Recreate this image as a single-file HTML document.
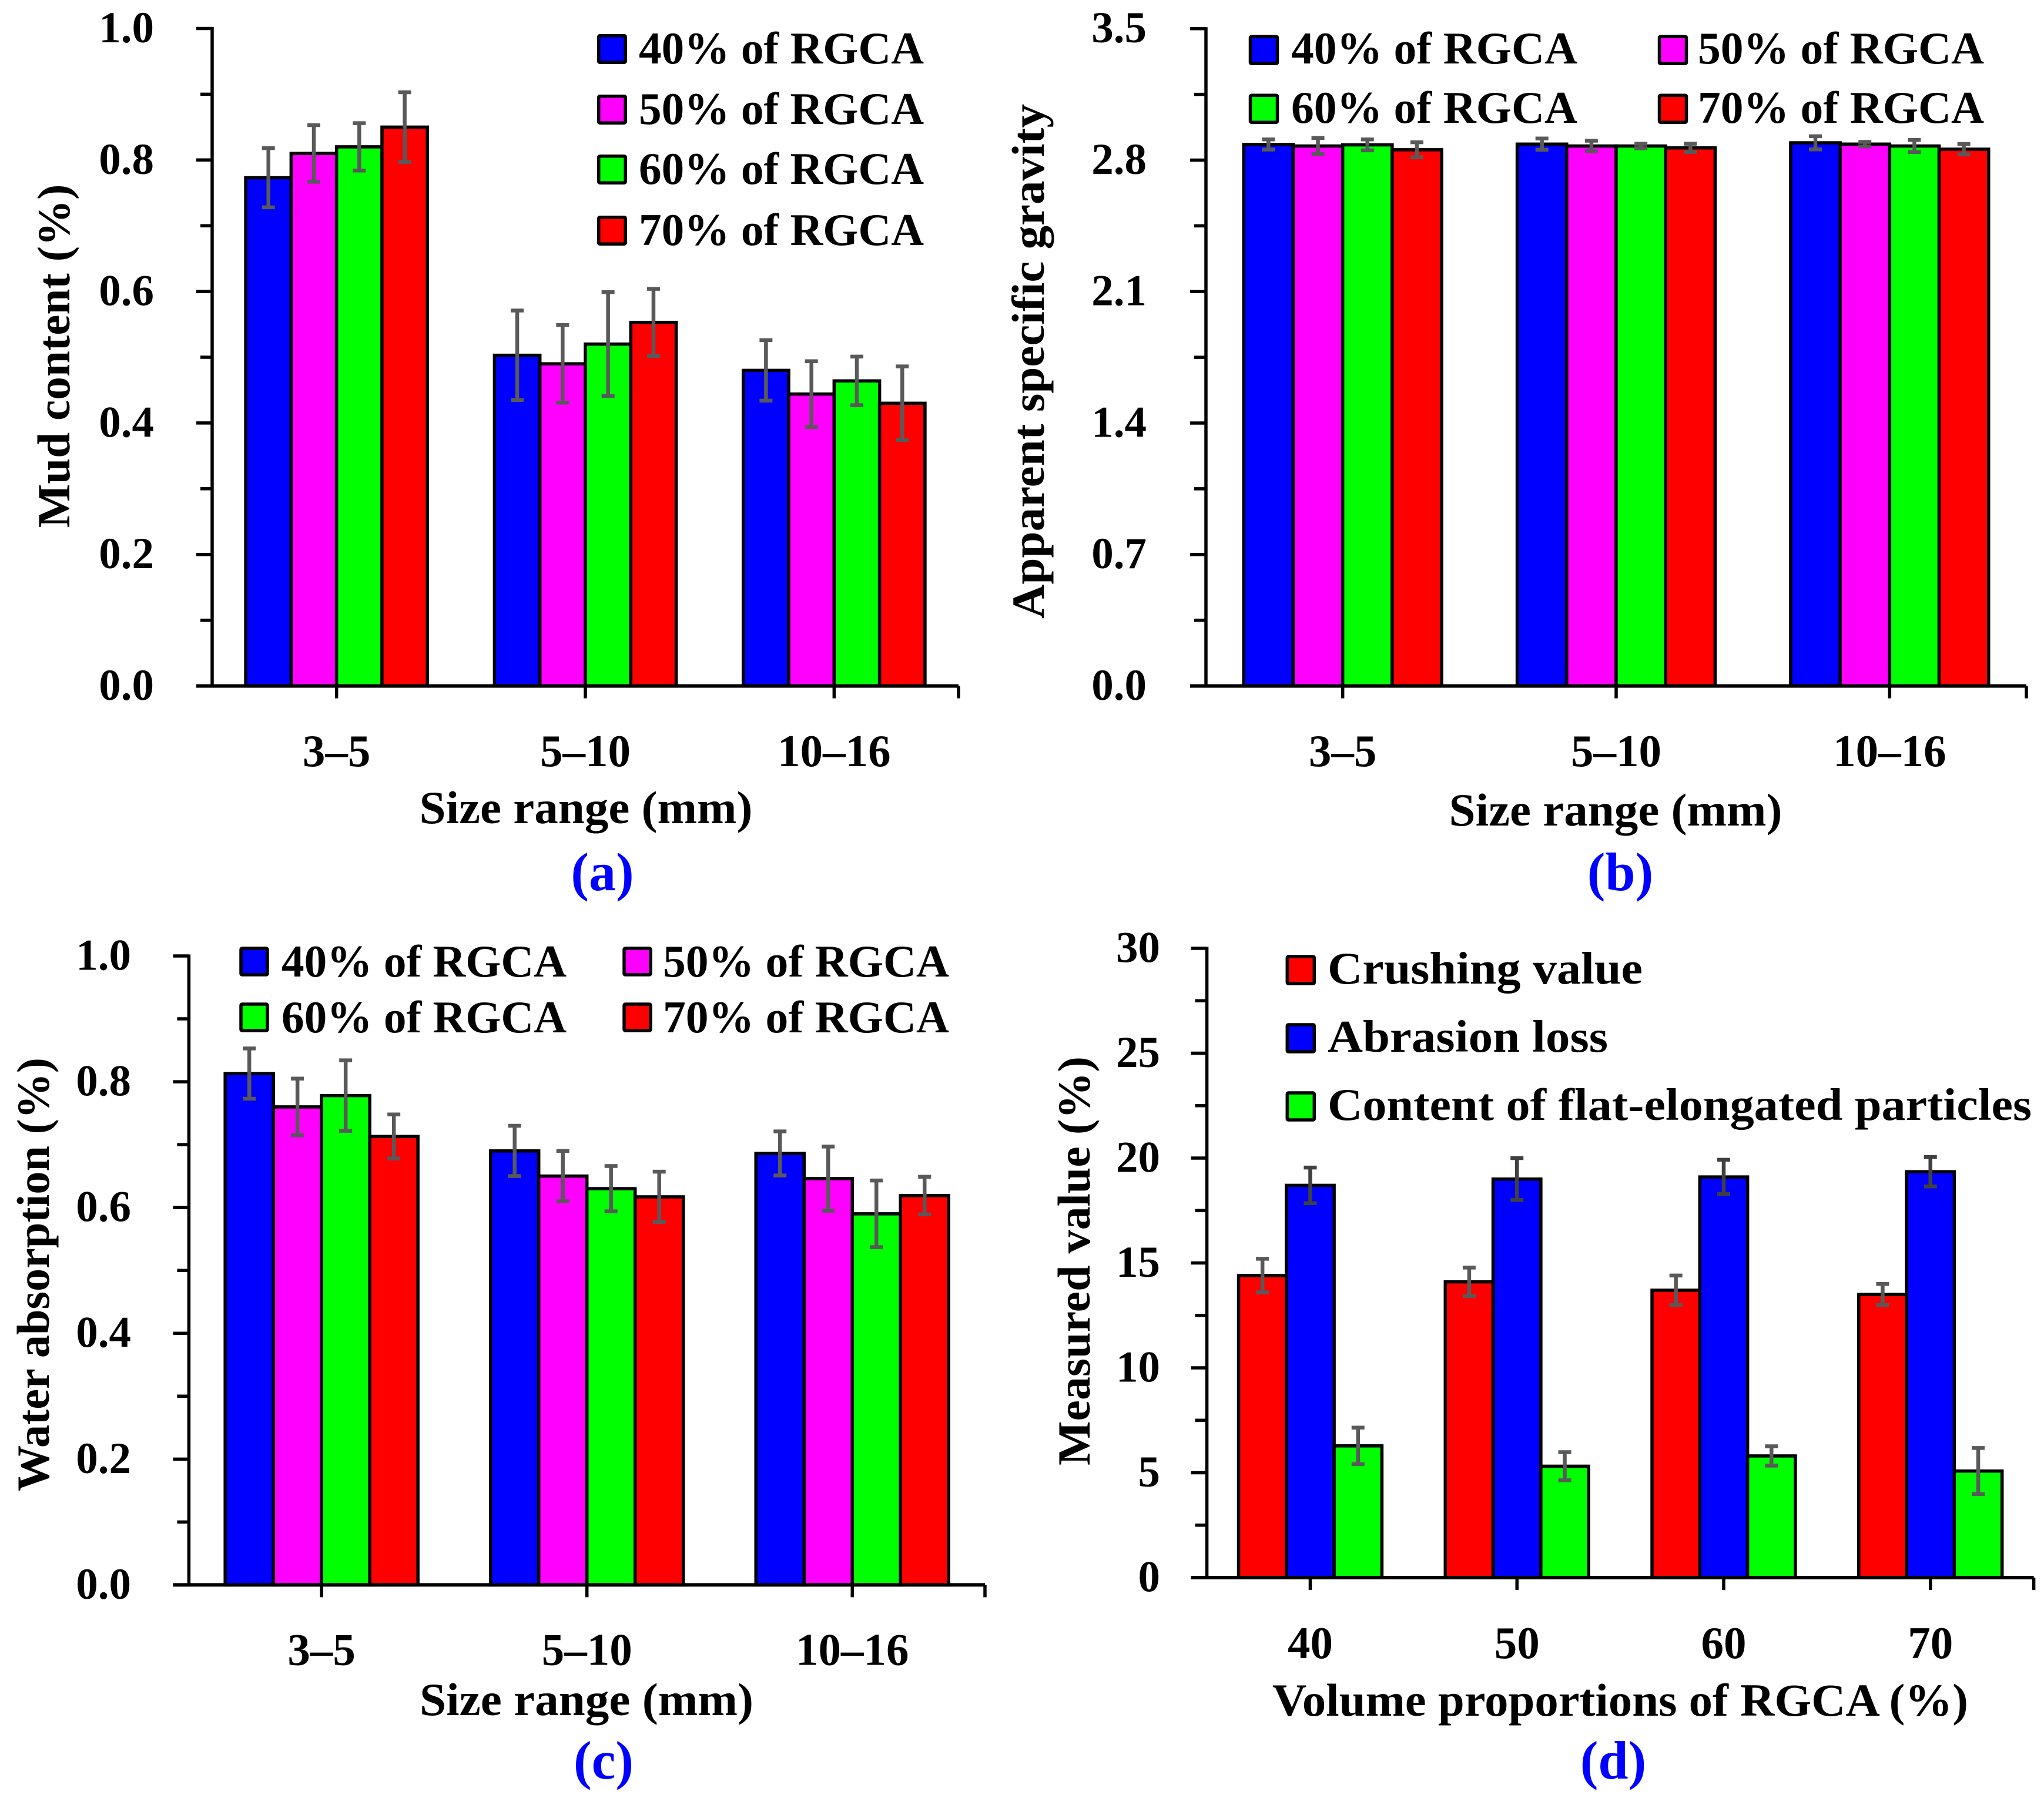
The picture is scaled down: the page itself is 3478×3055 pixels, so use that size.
<!DOCTYPE html>
<html lang="en">
<head>
<meta charset="utf-8">
<title>RGCA aggregate properties</title>
<style>
html,body{margin:0;padding:0;background:#fff;}
svg{display:block;}
text{font-family:"Liberation Serif",serif;font-weight:bold;fill:#000;}
.swatch{stroke:#000;stroke-width:5.5;}
.tick{font-size:75px;}
.xtick{font-size:77px;}
.leg{font-size:77px;}
.title{font-size:78px;}
.plabel{font-size:92px;fill:#0000ff;}
</style>
</head>
<body>
<svg id="fig" xmlns="http://www.w3.org/2000/svg" width="3478" height="3055" viewBox="0 0 3478 3055">
<rect x="0" y="0" width="3478" height="3055" fill="#fff"/>

<g id="pa">
  <g id="pa-marks"></g>
  <text class="title" transform="rotate(-90 118 606)" x="118" y="606" text-anchor="middle" textLength="585" lengthAdjust="spacingAndGlyphs">Mud content (%)</text>
  <text class="title" x="997" y="1401" text-anchor="middle" textLength="567" lengthAdjust="spacingAndGlyphs">Size range (mm)</text>
  <text class="plabel" x="1025" y="1515" text-anchor="middle">(a)</text>
  <g>
    <rect class="swatch" x="1018.7" y="60.7" width="45.5" height="45.5" rx="2" fill="#0000ff"/>
    <text class="leg" x="1087" y="108" textLength="485" lengthAdjust="spacingAndGlyphs">40% of RGCA</text>
    <rect class="swatch" x="1018.7" y="163.7" width="45.5" height="45.5" rx="2" fill="#ff00ff"/>
    <text class="leg" x="1087" y="211" textLength="485" lengthAdjust="spacingAndGlyphs">50% of RGCA</text>
    <rect class="swatch" x="1018.7" y="265.7" width="45.5" height="45.5" rx="2" fill="#00ff00"/>
    <text class="leg" x="1087" y="313" textLength="485" lengthAdjust="spacingAndGlyphs">60% of RGCA</text>
    <rect class="swatch" x="1018.7" y="369.7" width="45.5" height="45.5" rx="2" fill="#ff0000"/>
    <text class="leg" x="1087" y="417" textLength="485" lengthAdjust="spacingAndGlyphs">70% of RGCA</text>
  </g>
</g>

<g id="pb">
  <g id="pb-marks"></g>
  <text class="title" transform="rotate(-90 1776 615)" x="1776" y="615" text-anchor="middle" textLength="876" lengthAdjust="spacingAndGlyphs">Apparent specific gravity</text>
  <text class="title" x="2749" y="1405" text-anchor="middle" textLength="567" lengthAdjust="spacingAndGlyphs">Size range (mm)</text>
  <text class="plabel" x="2757" y="1515" text-anchor="middle">(b)</text>
  <g>
    <rect class="swatch" x="2127.5" y="62.2" width="46" height="46" rx="2" fill="#0000ff"/>
    <text class="leg" x="2197" y="108" textLength="487" lengthAdjust="spacingAndGlyphs">40% of RGCA</text>
    <rect class="swatch" x="2823.5" y="62.2" width="46" height="46" rx="2" fill="#ff00ff"/>
    <text class="leg" x="2889" y="108" textLength="487" lengthAdjust="spacingAndGlyphs">50% of RGCA</text>
    <rect class="swatch" x="2127.5" y="162.2" width="46" height="46" rx="2" fill="#00ff00"/>
    <text class="leg" x="2197" y="209" textLength="487" lengthAdjust="spacingAndGlyphs">60% of RGCA</text>
    <rect class="swatch" x="2823.5" y="162.2" width="46" height="46" rx="2" fill="#ff0000"/>
    <text class="leg" x="2889" y="209" textLength="487" lengthAdjust="spacingAndGlyphs">70% of RGCA</text>
  </g>
</g>

<g id="pc">
  <g id="pc-marks"></g>
  <text class="title" transform="rotate(-90 83 2169)" x="83" y="2169" text-anchor="middle" textLength="738" lengthAdjust="spacingAndGlyphs">Water absorption (%)</text>
  <text class="title" x="998" y="2919" text-anchor="middle" textLength="568" lengthAdjust="spacingAndGlyphs">Size range (mm)</text>
  <text class="plabel" x="1027" y="3027" text-anchor="middle">(c)</text>
  <g>
    <rect class="swatch" x="410" y="1614" width="45" height="45" rx="2" fill="#0000ff"/>
    <text class="leg" x="479" y="1662" textLength="485" lengthAdjust="spacingAndGlyphs">40% of RGCA</text>
    <rect class="swatch" x="1062" y="1614" width="45" height="45" rx="2" fill="#ff00ff"/>
    <text class="leg" x="1128" y="1662" textLength="487" lengthAdjust="spacingAndGlyphs">50% of RGCA</text>
    <rect class="swatch" x="410" y="1709" width="45" height="45" rx="2" fill="#00ff00"/>
    <text class="leg" x="479" y="1757" textLength="485" lengthAdjust="spacingAndGlyphs">60% of RGCA</text>
    <rect class="swatch" x="1062" y="1709" width="45" height="45" rx="2" fill="#ff0000"/>
    <text class="leg" x="1128" y="1757" textLength="487" lengthAdjust="spacingAndGlyphs">70% of RGCA</text>
  </g>
</g>

<g id="pd">
  <g id="pd-marks"></g>
  <text class="title" transform="rotate(-90 1854 2146)" x="1854" y="2146" text-anchor="middle" textLength="696" lengthAdjust="spacingAndGlyphs">Measured value (%)</text>
  <text class="title" x="2757" y="2920" text-anchor="middle" textLength="1184" lengthAdjust="spacingAndGlyphs">Volume proportions of RGCA (%)</text>
  <text class="plabel" x="2745" y="3027" text-anchor="middle">(d)</text>
  <g>
    <rect class="swatch" x="2190.3" y="1628" width="46" height="46" rx="2" fill="#ff0000"/>
    <text class="leg" x="2259" y="1674" textLength="536" lengthAdjust="spacingAndGlyphs">Crushing value</text>
    <rect class="swatch" x="2190.3" y="1744" width="46" height="46" rx="2" fill="#0000ff"/>
    <text class="leg" x="2259" y="1790" textLength="477" lengthAdjust="spacingAndGlyphs">Abrasion loss</text>
    <rect class="swatch" x="2190.3" y="1860" width="46" height="46" rx="2" fill="#00ff00"/>
    <text class="leg" x="2259" y="1906" textLength="1198" lengthAdjust="spacingAndGlyphs">Content of flat-elongated particles</text>
  </g>
</g>
</svg>

<script>
// Shared categories
const sizeCategories = ['3–5', '5–10', '10–16'];
const rgcaCategories = ['40', '50', '60', '70'];

// Panel (a) Mud content
const aYTicks = ['0.0', '0.2', '0.4', '0.6', '0.8', '1.0'];
const aRgca40 = [0.773, 0.503, 0.480];
const aRgca50 = [0.810, 0.490, 0.444];
const aRgca60 = [0.820, 0.520, 0.464];
const aRgca70 = [0.850, 0.553, 0.430];
const aErr40 = [0.045, 0.068, 0.046];
const aErr50 = [0.043, 0.059, 0.050];
const aErr60 = [0.036, 0.079, 0.037];
const aErr70 = [0.053, 0.051, 0.056];

// Panel (b) Apparent specific gravity
const bYTicks = ['0.0', '0.7', '1.4', '2.1', '2.8', '3.5'];
const bRgca40 = [2.883, 2.885, 2.892];
const bRgca50 = [2.875, 2.875, 2.885];
const bRgca60 = [2.881, 2.875, 2.875];
const bRgca70 = [2.855, 2.865, 2.858];
const bErr40 = [0.027, 0.030, 0.035];
const bErr50 = [0.043, 0.028, 0.012];
const bErr60 = [0.029, 0.012, 0.032];
const bErr70 = [0.040, 0.022, 0.028];

// Panel (c) Water absorption
const cYTicks = ['0.0', '0.2', '0.4', '0.6', '0.8', '1.0'];
const cRgca40 = [0.813, 0.690, 0.686];
const cRgca50 = [0.760, 0.650, 0.646];
const cRgca60 = [0.778, 0.630, 0.590];
const cRgca70 = [0.713, 0.617, 0.619];
const cErr40 = [0.040, 0.040, 0.035];
const cErr50 = [0.045, 0.040, 0.051];
const cErr60 = [0.056, 0.036, 0.053];
const cErr70 = [0.035, 0.040, 0.030];

// Panel (d) Measured value
const dYTicks = ['0', '5', '10', '15', '20', '25', '30'];
const dCrushing = [14.4, 14.1, 13.7, 13.5];
const dAbrasion = [18.7, 19.0, 19.1, 19.35];
const dFlat = [6.28, 5.31, 5.8, 5.08];
const dErrCrushing = [0.8, 0.68, 0.7, 0.5];
const dErrAbrasion = [0.85, 1.0, 0.82, 0.7];
const dErrFlat = [0.87, 0.67, 0.46, 1.1];

const SVGNS = 'http://www.w3.org/2000/svg';

function mk(parent, tag, attrs) {
  const el = document.createElementNS(SVGNS, tag);
  for (const k in attrs) el.setAttribute(k, attrs[k]);
  
  parent.appendChild(el);
  return el;
}

function line(parent, x1, y1, x2, y2, color, width) {
  return mk(parent, 'line', {x1: x1, y1: y1, x2: x2, y2: y2, stroke: color, 'stroke-width': width});
}

function drawPanel(id, geom, categories, yTicks, series) {
  const root = document.getElementById(id);
  const yMax = Number(yTicks[yTicks.length - 1]);
  const step = Number(yTicks[1]) - Number(yTicks[0]);
  const yScale = v => geom.base - (v / yMax) * (geom.base - geom.top);
  const catW = (geom.right - geom.left) / categories.length;
  const xScale = i => geom.left + catW * (i + 0.5);
  const n = series.length;

  // bars
  series.forEach((s, sIndex) => {
    s.vals.forEach((v, i) => {
      const x = xScale(i) + (sIndex - n / 2) * geom.barW;
      const bar = mk(root, 'rect', {x: x, y: yScale(v), width: geom.barW, height: geom.base - yScale(v), fill: s.fill, stroke: '#000', 'stroke-width': 5.5});
      
    });
  });

  // error bars
  series.forEach((s, sIndex) => {
    s.vals.forEach((v, i) => {
      const cx = xScale(i) + (sIndex - n / 2 + 0.5) * geom.barW;
      const hi = yScale(v + s.errs[i]);
      const lo = yScale(v - s.errs[i]);
      const g = mk(root, 'g', {});
      
      line(g, cx, hi, cx, lo, s.errColor, 6.5);
      line(g, cx - 11, hi, cx + 11, hi, s.errColor, 6.5);
      line(g, cx - 11, lo, cx + 11, lo, s.errColor, 6.5);
    });
  });

  // y axis
  const yAxis = line(root, geom.left, geom.top - 2.5, geom.left, geom.base, '#000', 5.5);
  
  yTicks.forEach(label => {
    const v = Number(label);
    const y = yScale(v);
    const t = line(root, geom.left - 27, y, geom.left, y, '#000', 5.5);
    
    const txt = mk(root, 'text', {x: geom.labelRight, y: y + 23.5, 'text-anchor': 'end', 'class': 'tick'});
    
    txt.textContent = label;
    if (v + step <= yMax) {
      const my = yScale(v + step / 2);
      const m = line(root, geom.left - 20, my, geom.left, my, '#000', 5.5);
      
    }
  });

  // x axis
  const xAxis = line(root, geom.left - 27, geom.base, geom.right, geom.base, '#000', 6);
  
  categories.forEach((label, i) => {
    const x = xScale(i);
    const t = line(root, x, geom.base, x, geom.base + 21, '#000', 5.5);
    
    const txt = mk(root, 'text', {x: x, y: geom.xLabelY, 'text-anchor': 'middle', 'class': 'xtick'});
    
    txt.textContent = label;
  });
  const endTick = line(root, geom.right, geom.base, geom.right, geom.base + 21, '#000', 5.5);
  
}

const GREY = '#595959';
const BLUE = '#0000ff', MAGENTA = '#ff00ff', GREEN = '#00ff00', RED = '#ff0000';

drawPanel('pa-marks',
  {left: 361, right: 1631, top: 48.5, base: 1167.5, barW: 77.3, labelRight: 262, xLabelY: 1304},
  sizeCategories, aYTicks, [
    {name: '40', vals: aRgca40, errs: aErr40, fill: BLUE, errColor: GREY},
    {name: '50', vals: aRgca50, errs: aErr50, fill: MAGENTA, errColor: GREY},
    {name: '60', vals: aRgca60, errs: aErr60, fill: GREEN, errColor: GREY},
    {name: '70', vals: aRgca70, errs: aErr70, fill: RED, errColor: GREY}
  ]);

drawPanel('pb-marks',
  {left: 2052, right: 3448, top: 48.7, base: 1167.5, barW: 84.2, labelRight: 1951, xLabelY: 1304},
  sizeCategories, bYTicks, [
    {name: '40', vals: bRgca40, errs: bErr40, fill: BLUE, errColor: GREY},
    {name: '50', vals: bRgca50, errs: bErr50, fill: MAGENTA, errColor: GREY},
    {name: '60', vals: bRgca60, errs: bErr60, fill: GREEN, errColor: GREY},
    {name: '70', vals: bRgca70, errs: bErr70, fill: RED, errColor: GREY}
  ]);

drawPanel('pc-marks',
  {left: 321.4, right: 1676, top: 1627, base: 2697.4, barW: 82, labelRight: 223, xLabelY: 2833.6},
  sizeCategories, cYTicks, [
    {name: '40', vals: cRgca40, errs: cErr40, fill: BLUE, errColor: GREY},
    {name: '50', vals: cRgca50, errs: cErr50, fill: MAGENTA, errColor: GREY},
    {name: '60', vals: cRgca60, errs: cErr60, fill: GREEN, errColor: GREY},
    {name: '70', vals: cRgca70, errs: cErr70, fill: RED, errColor: GREY}
  ]);

drawPanel('pd-marks',
  {left: 2053.6, right: 3460.6, top: 1614, base: 2685, barW: 81.3, labelRight: 1974, xLabelY: 2822},
  rgcaCategories, dYTicks, [
    {name: 'crushing', vals: dCrushing, errs: dErrCrushing, fill: RED, errColor: GREY},
    {name: 'abrasion', vals: dAbrasion, errs: dErrAbrasion, fill: BLUE, errColor: '#404040'},
    {name: 'flat-elongated', vals: dFlat, errs: dErrFlat, fill: GREEN, errColor: GREY}
  ]);
</script>
</body>
</html>
